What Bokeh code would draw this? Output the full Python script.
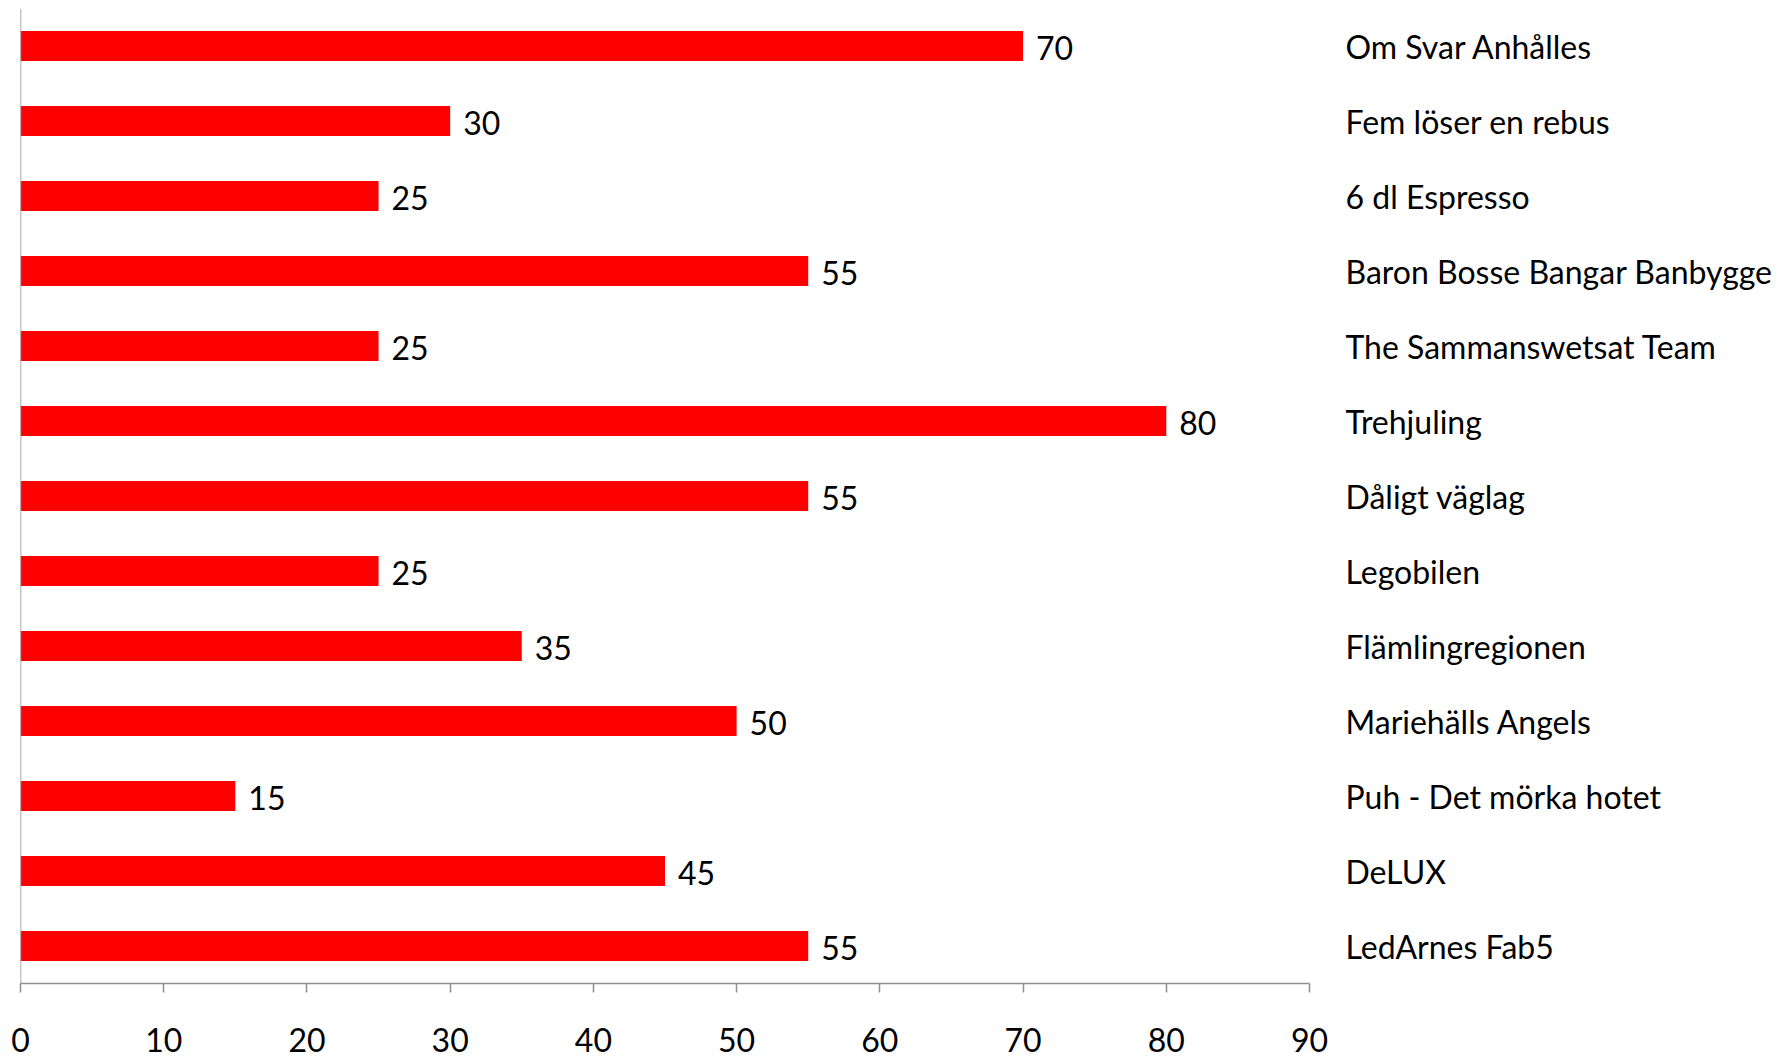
from bokeh.plotting import figure
from bokeh.models import FactorRange, Range1d, Span, ColumnDataSource, FixedTicker
from bokeh.core.properties import value
from bokeh.embed import file_html
from bokeh.resources import INLINE

categories = ["Om Svar Anhålles", "Fem löser en rebus", "6 dl Espresso",
              "Baron Bosse Bangar Banbygge", "The Sammanswetsat Team", "Trehjuling",
              "Dåligt väglag", "Legobilen", "Flämlingregionen", "Mariehälls Angels",
              "Puh - Det mörka hotet", "DeLUX", "LedArnes Fab5"]
values = [70, 30, 25, 55, 25, 80, 55, 25, 35, 50, 15, 45, 55]
x_ticks = [0, 10, 20, 30, 40, 50, 60, 70, 80, 90]

FONT = "Lato"
FS = "32px"

src = ColumnDataSource(dict(cat=categories, val=values,
                            lab=[str(v) for v in values]))

p = figure(width=1778, height=1057, output_backend="svg", toolbar_location=None,
           y_range=FactorRange(factors=list(reversed(categories)), range_padding=0),
           x_range=Range1d(0, 90), y_axis_location="right",
           min_border_left=20, min_border_right=469, min_border_top=8,
           min_border_bottom=74)
p.title.visible = False
p.outline_line_color = None
p.background_fill_color = "white"
p.border_fill_color = "white"
p.xgrid.visible = False
p.ygrid.visible = False

p.hbar(y="cat", right="val", left=0, height=0.4, source=src,
       fill_color="#FF0000", line_color=None)

p.text(x="val", y="cat", text="lab", source=src, x_offset=13, y_offset=2,
       text_baseline="middle", text_align="left",
       text_font=value(FONT), text_font_size=FS, text_color="black")

p.add_layout(Span(location=0, dimension="height", line_color="#8e8e8e", line_width=1.5))

xa = p.xaxis[0]
xa.ticker = FixedTicker(ticks=x_ticks)
xa.axis_line_color = "#8e8e8e"
xa.axis_line_width = 1.5
xa.major_tick_line_color = "#8e8e8e"
xa.major_tick_line_width = 1.5
xa.major_tick_out = 9
xa.major_tick_in = 0
xa.minor_tick_line_color = None
xa.major_label_standoff = 35
xa.major_label_text_font = FONT
xa.major_label_text_font_size = FS
xa.major_label_text_color = "black"

ya = p.yaxis[0]
ya.axis_line_color = None
ya.major_tick_line_color = None
ya.minor_tick_line_color = None
ya.major_tick_out = 0
ya.major_tick_in = 0
ya.major_label_standoff = 36
ya.major_label_text_font = FONT
ya.major_label_text_font_size = FS
ya.major_label_text_color = "black"

open("out.html", "w").write(file_html(p, INLINE))
